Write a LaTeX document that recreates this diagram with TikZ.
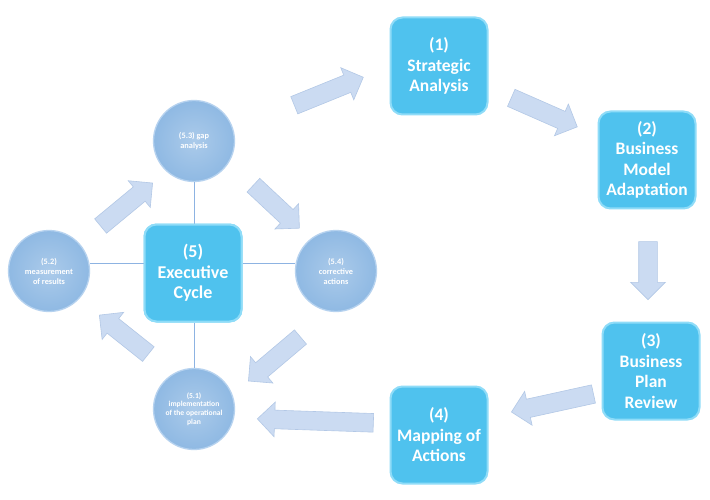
\documentclass[tikz,border=0pt]{standalone}
\usepackage{fontspec}
\setmainfont{Carlito}
\usetikzlibrary{calc,shapes.arrows}
\definecolor{boxfill}{HTML}{4FC2EE}
\definecolor{boxedge}{HTML}{8FDCF8}
\definecolor{circfill}{HTML}{8FB9E3}
\definecolor{circedge}{HTML}{B6D2EF}
\definecolor{arrfill}{HTML}{CBDBF2}
\definecolor{arredge}{HTML}{B3C8E6}
\definecolor{linecol}{HTML}{8DB3E2}
\tikzset{
  stepbox/.style={rectangle, rounded corners=12pt, fill=boxfill, draw=boxedge, line width=2pt,
    minimum width=97pt, minimum height=97pt, text=white, align=center,
    font=\fontsize{17.5}{20.5}\selectfont\bfseries, inner sep=2pt},
  subcircle/.style={circle, inner color=circfill!75!white, outer color=circfill,
    draw=circedge, line width=1.3pt, minimum size=81pt, text=white, align=center,
    font=\fontsize{8.3}{10}\selectfont\bfseries, inner sep=1pt},
  spoke/.style={draw=linecol, line width=0.8pt},
  blockarrow/.style={single arrow, fill=arrfill, draw=arredge, line width=0.6pt,
    inner xsep=0pt, inner ysep=9pt, single arrow head extend=8pt,
    single arrow head indent=0pt, shape border uses incircle=false},
}
\newcommand{\blockarr}[3]{%
  \path let \p1=(#2), \p2=(#3), \n1={atan2(\y2-\y1,\x2-\x1)}, \n2={veclen(\x2-\x1,\y2-\y1)} in
    node[blockarrow, rotate=\n1, minimum height=\n2] (#1) at ($(#2)!0.5!(#3)$) {};}
\begin{document}
\begin{tikzpicture}[x=1pt,y=-1pt]
\useasboundingbox (0,0) rectangle (710,500);
\fill[white] (0,0) rectangle (710,500);

\node[stepbox, font=\fontsize{18}{20.5}\selectfont\bfseries] (n5) at (193,273) {(5)\\Executive\\Cycle};
\node[subcircle] (c53) at (194,141) {(5.3) gap\\analysis};
\node[subcircle] (c52) at (49,271) {(5.2)\\measurement\\of results};
\node[subcircle] (c54) at (336,271) {(5.4)\\corrective\\actions};
\node[subcircle, font=\fontsize{7.6}{8.6}\selectfont\bfseries] (c51) at (194,409) {(5.1)\\implementation\\of the operational\\plan};

\draw[spoke] (c53.south) -- (c53.south |- n5.north);
\draw[spoke] (c51.north) -- (c51.north |- n5.south);
\draw[spoke] ([yshift=8pt]c52.east) -- ([yshift=8pt]c52.east -| n5.west);
\draw[spoke] ([yshift=8pt]c54.west) -- ([yshift=8pt]c54.west -| n5.east);

\node[stepbox, font=\fontsize{18}{20.5}\selectfont\bfseries] at (193,273) {(5)\\Executive\\Cycle};

\node[stepbox] (n1) at (439,66) {(1)\\Strategic\\Analysis};
\node[stepbox] (n2) at (647,160) {(2)\\Business\\Model\\Adaptation};
\node[stepbox] (n3) at (651,371) {(3)\\Business\\Plan\\Review};
\node[stepbox] (n4) at (439,435) {(4)\\Mapping of\\Actions};

\coordinate (aT) at (97,229);  \coordinate (aH) at (149,186);
\coordinate (bT) at (250,182); \coordinate (bH) at (296,225);
\coordinate (cT) at (304,334); \coordinate (cH) at (252,378);
\coordinate (dT) at (152,357); \coordinate (dH) at (103,318);
\coordinate (eT) at (290,107); \coordinate (eH) at (359,79);
\coordinate (fT) at (507,96);  \coordinate (fH) at (573,125);
\coordinate (gT) at (648,237); \coordinate (gH) at (648,295);
\coordinate (hT) at (598,393); \coordinate (hH) at (516,411);
\coordinate (iT) at (378,423); \coordinate (iH) at (262,419);

\blockarr{arA}{aT}{aH}
\blockarr{arB}{bT}{bH}
\blockarr{arC}{cT}{cH}
\blockarr{arD}{dT}{dH}
\blockarr{arE}{eT}{eH}
\blockarr{arF}{fT}{fH}
\blockarr{arG}{gT}{gH}
\blockarr{arH}{hT}{hH}
\blockarr{arI}{iT}{iH}
\end{tikzpicture}
\end{document}
